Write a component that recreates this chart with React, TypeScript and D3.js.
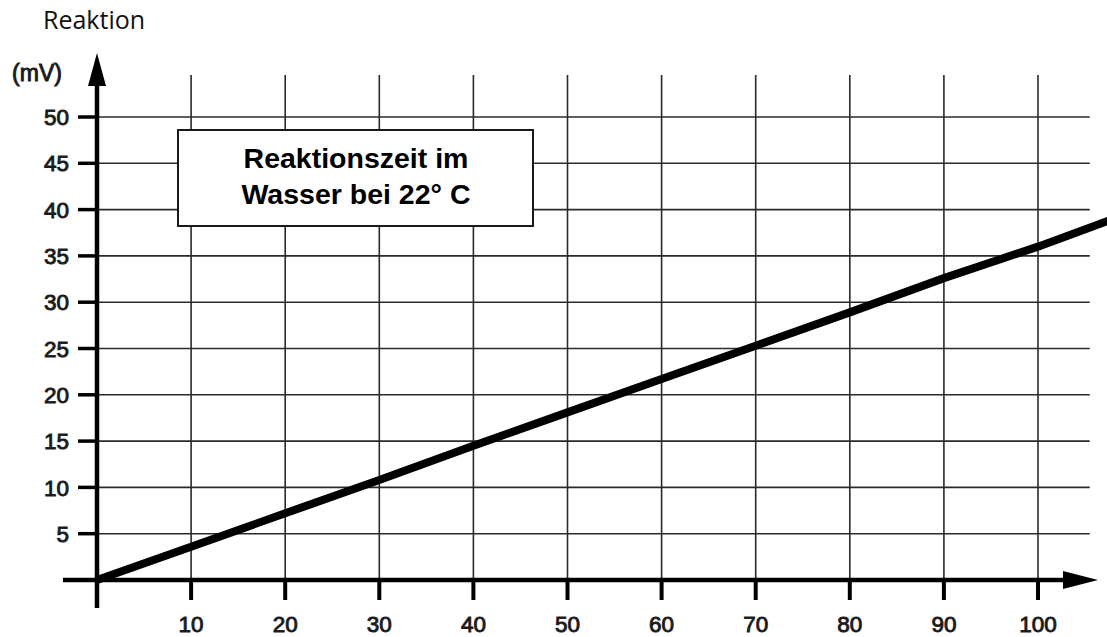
import React from "react";
import * as d3 from "d3";

// values
const reaktionX = [0, 10, 20, 30, 40, 50, 60, 70, 80, 90, 100, 107.5];
const reaktionMV = [0, 3.6, 7.2, 10.8, 14.5, 18.1, 21.7, 25.3, 28.9, 32.6, 36.0, 38.8];
const xTicks = [10, 20, 30, 40, 50, 60, 70, 80, 90, 100];
const yTicks = [5, 10, 15, 20, 25, 30, 35, 40, 45, 50];
const title = "Reaktion";
const yUnit = "(mV)";
const legendLines = ["Reaktionszeit im", "Wasser bei 22° C"];

const width = 1107;
const height = 637;

export default function App() {
  const x = d3.scaleLinear().domain([0, 100]).range([97, 1038]);
  const y = d3.scaleLinear().domain([0, 50]).range([580, 117]);

  const points = reaktionX.map((v, i) => [v, reaktionMV[i]] as [number, number]);
  const line = d3
    .line<[number, number]>()
    .x((d) => x(d[0]))
    .y((d) => y(d[1]));

  const gridRight = x(105.5);
  const gridTop = 75;
  const x0 = x(0);
  const y0 = y(0);
  const ink = "#1a1a1a";
  const labelFont = "'Liberation Sans', Arial, sans-serif";

  return (
    <svg
      width={width}
      height={height}
      style={{ position: "absolute", left: 0, top: 0, background: "#fff" }}
    >
      <text x={43} y={29} fontFamily="'Open Sans', sans-serif" fontSize={25} fill="#111">
        {title}
      </text>

      {/* grid */}
      <g stroke="#2a2a2a" strokeWidth={1.6}>
        {yTicks.map((t) => (
          <line key={"h" + t} x1={x0} x2={gridRight} y1={y(t)} y2={y(t)} />
        ))}
        {xTicks.map((t) => (
          <line key={"v" + t} x1={x(t)} x2={x(t)} y1={gridTop} y2={y0} />
        ))}
      </g>

      {/* legend box */}
      <rect x={178} y={130} width={355} height={96} fill="#fff" stroke="#000" strokeWidth={1.8} />
      {legendLines.map((s, i) => (
        <text
          key={s}
          x={356}
          y={168 + i * 36}
          textAnchor="middle"
          fontFamily={labelFont}
          fontWeight="bold"
          fontSize={28.5}
          fill="#000"
        >
          {s}
        </text>
      ))}

      {/* data line */}
      <path d={line(points) ?? ""} fill="none" stroke="#000" strokeWidth={8} />

      {/* axes */}
      <g stroke="#000">
        <line x1={x0} x2={x0} y1={80} y2={608} strokeWidth={4.5} />
        <line x1={63} x2={1070} y1={y0} y2={y0} strokeWidth={4.5} />
        {yTicks.map((t) => (
          <line key={"yt" + t} x1={78} x2={x0} y1={y(t)} y2={y(t)} strokeWidth={3.5} />
        ))}
        {xTicks.map((t) => (
          <line key={"xt" + t} x1={x(t)} x2={x(t)} y1={y0} y2={600} strokeWidth={4} />
        ))}
      </g>
      <path d={`M${x0},53 L${x0 + 9},86 L${x0 - 9},86 Z`} fill="#000" />
      <path d={`M1098,${y0} L1063,${y0 - 9} L1063,${y0 + 9} Z`} fill="#000" />

      {/* tick labels */}
      <g fontFamily={labelFont} fontSize={22.5} fill={ink} stroke={ink} strokeWidth={0.9}>
        {yTicks.map((t) => (
          <text key={"yl" + t} x={69} y={y(t)} dy="0.36em" textAnchor="end">
            {t}
          </text>
        ))}
        {xTicks.map((t) => (
          <text key={"xl" + t} x={x(t)} y={632} textAnchor="middle">
            {t}
          </text>
        ))}
        <text x={37} y={73} dy="0.36em" textAnchor="middle" fontSize={23}>
          {yUnit}
        </text>
      </g>
    </svg>
  );
}
